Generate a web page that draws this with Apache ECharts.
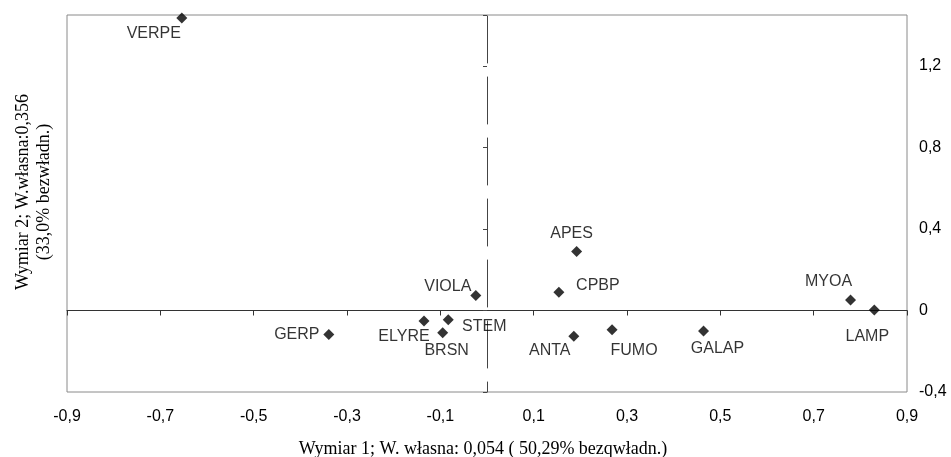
<!DOCTYPE html>
<html>
<head>
<meta charset="utf-8">
<script src="https://cdn.jsdelivr.net/npm/echarts@6/dist/echarts.min.js"></script>
<style>html,body{margin:0;padding:0;background:#fff;}#c{width:951px;height:457px;}</style>
</head>
<body>
<div id="c"></div>
<script>
// ---- data ----
var names = ['VERPE','GERP','ELYRE','BRSN','STEM','VIOLA','APES','CPBP','ANTA','FUMO','GALAP','MYOA','LAMP'];
var dim1  = [-0.654,-0.339,-0.135,-0.095,-0.083,-0.024,0.192,0.154,0.186,0.268,0.464,0.779,0.830];
var dim2  = [1.435,-0.118,-0.052,-0.109,-0.046,0.074,0.289,0.090,-0.126,-0.095,-0.101,0.051,0.003];
var xTitle = 'Wymiar 1; W. własna: 0,054 ( 50,29% bezqwładn.)';
var yTitle1 = 'Wymiar 2; W.własna:0,356';
var yTitle2 = '(33,0% bezwładn.)';

// ---- label placement (style) ----
var labelOffsets = {
  VERPE:[-28,16], GERP:[-32,0], ELYRE:[-20,16], BRSN:[4,18], STEM:[36,7], VIOLA:[-28,-9],
  APES:[-5,-18], CPBP:[39,-7], ANTA:[-24,14], FUMO:[22,21], GALAP:[14,18], MYOA:[-22,-18], LAMP:[-7,27]
};

function fmt(v){ var r = Math.round(v*10)/10; return String(r).replace('.', ','); }

var points = names.map(function(n,i){
  return { value:[dim1[i], dim2[i]], name:n,
    label:{ offset: labelOffsets[n] } };
});

var chart = echarts.init(document.getElementById('c'), null, {renderer:'canvas'});
var lblFont = {fontFamily:'Liberation Sans, Arial, sans-serif', fontSize:16, color:'#000'};
var serif = '18px "Liberation Serif", "Times New Roman", serif';
chart.setOption({
  animation:false,
  grid:{left:67, top:15, right:44, bottom:65, show:true, borderColor:'#8a8a8a', borderWidth:1, containLabel:false},
  xAxis:[
    {type:'value', position:'bottom', min:-0.9, max:0.9, interval:0.2,
     axisLine:{show:false, onZero:false}, axisTick:{show:false}, splitLine:{show:false},
     axisLabel:Object.assign({margin:17, formatter:fmt}, lblFont)},
    {type:'value', position:'bottom', min:-0.9, max:0.9, interval:0.2,
     axisLine:{show:true, onZero:true, lineStyle:{color:'#333', width:1}},
     axisTick:{show:true, length:5, lineStyle:{color:'#333'}},
     axisLabel:{show:false}, splitLine:{show:false}}
  ],
  yAxis:[
    {type:'value', position:'right', min:-0.4, max:1.45, interval:0.4,
     axisLine:{show:false, onZero:false}, axisTick:{show:false}, splitLine:{show:false},
     axisLabel:Object.assign({margin:12, formatter:fmt, showMaxLabel:false}, lblFont)},
    {type:'value', position:'left', min:-0.4, max:1.45, interval:0.4,
     axisLine:{show:true, onZero:true, lineStyle:{color:'#444', width:1, type:[47,14], dashOffset:37}},
     axisTick:{show:true, length:4, lineStyle:{color:'#444'}},
     axisLabel:{show:false}, splitLine:{show:false}}
  ],
  series:[{
    type:'scatter', xAxisIndex:0, yAxisIndex:0,
    symbol:'diamond', symbolSize:11,
    itemStyle:{color:'#000'},
    label:{show:true, position:'inside', align:'center', verticalAlign:'middle',
      formatter:'{b}', fontFamily:'Liberation Sans, Arial, sans-serif', fontSize:16, color:'#000'},
    data:points
  }],
  graphic:[
    {type:'text', x:483, y:449, style:{text:xTitle, font:serif, fill:'#000', align:'center', verticalAlign:'middle'}},
    {type:'text', x:23, y:192, rotation:Math.PI/2, style:{text:yTitle1, font:serif, fill:'#000', align:'center', verticalAlign:'middle'}},
    {type:'text', x:44, y:192, rotation:Math.PI/2, style:{text:yTitle2, font:serif, fill:'#000', align:'center', verticalAlign:'middle'}}
  ]
});
</script>
</body>
</html>
